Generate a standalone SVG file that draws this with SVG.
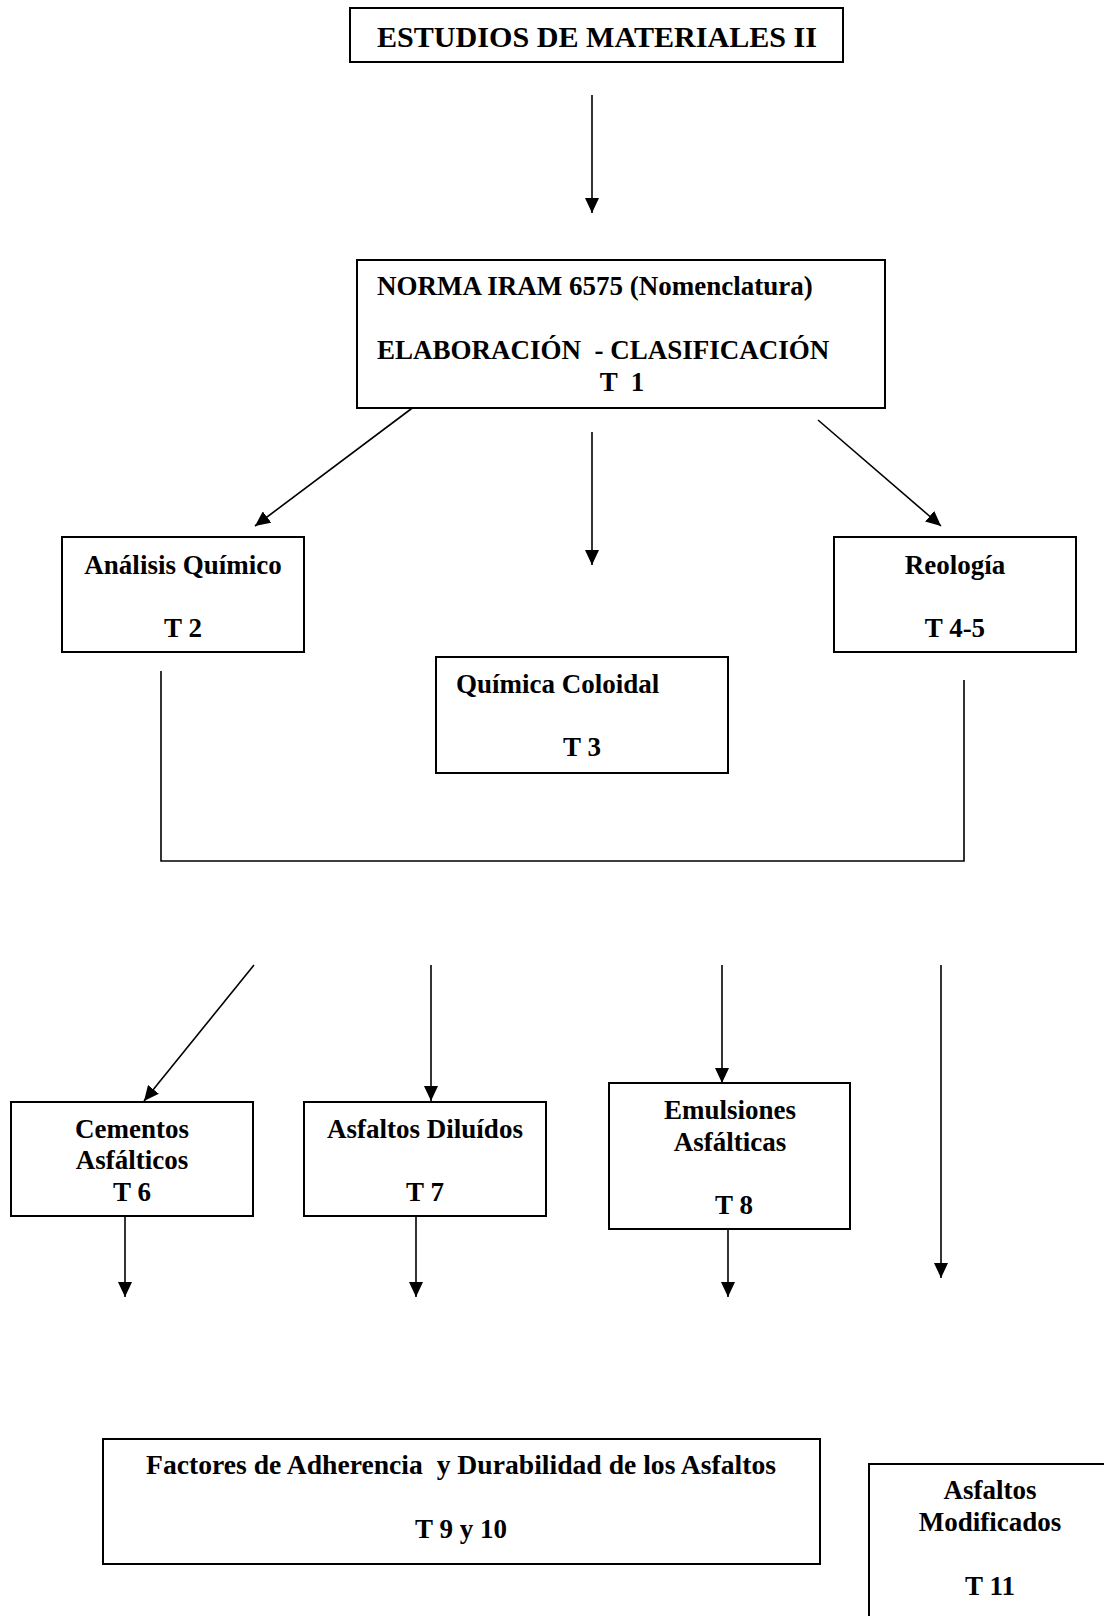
<svg xmlns="http://www.w3.org/2000/svg" width="1104" height="1616" viewBox="0 0 1104 1616">
<style>
.box{fill:#fff;stroke:#000;stroke-width:2}
.t{font-family:"Liberation Serif","Times New Roman",serif;font-weight:bold;font-size:27px;fill:#000}
.c{text-anchor:middle}
.ln{stroke:#000;stroke-width:1.6;fill:none}
.ar{stroke:#000;stroke-width:1.6;fill:none;marker-end:url(#ah)}
</style>
<defs>
<marker id="ah" viewBox="0 0 15 14" refX="15" refY="7" markerWidth="15" markerHeight="14" markerUnits="userSpaceOnUse" orient="auto">
<path d="M0,0 L15,7 L0,14 z" fill="#000"/>
</marker>
</defs>
<rect width="1104" height="1616" fill="#fff"/>
<g id="connectors">
<line class="ar" x1="415" y1="406" x2="255" y2="526"/>
<line class="ar" x1="592" y1="95" x2="592" y2="213"/>
<line class="ar" x1="592" y1="432" x2="592" y2="565"/>
<line class="ar" x1="818" y1="420" x2="941" y2="526"/>
<polyline class="ln" points="161,671 161,861 964,861 964,680"/>
<line class="ar" x1="254" y1="965" x2="144" y2="1101"/>
<line class="ar" x1="431" y1="965" x2="431" y2="1101"/>
<line class="ar" x1="722" y1="965" x2="722" y2="1083"/>
<line class="ar" x1="941" y1="965" x2="941" y2="1278"/>
<line class="ar" x1="125" y1="1216" x2="125" y2="1297"/>
<line class="ar" x1="416" y1="1216" x2="416" y2="1297"/>
<line class="ar" x1="728" y1="1229" x2="728" y2="1297"/>
</g>
<g id="titulo">
<rect class="box" x="350" y="8" width="493" height="54"/>
<text class="t c" x="597" y="47" style="font-size:30px" textLength="440" lengthAdjust="spacingAndGlyphs">ESTUDIOS DE MATERIALES II</text>
</g>
<g id="norma">
<rect class="box" x="357" y="260" width="528" height="148"/>
<text class="t" x="377" y="295">NORMA IRAM 6575 (Nomenclatura)</text>
<text class="t" x="377" y="359" xml:space="preserve">ELABORACIÓN  - CLASIFICACIÓN</text>
<text class="t c" x="622" y="391" xml:space="preserve">T  1</text>
</g>
<g id="analisis">
<rect class="box" x="62" y="537" width="242" height="115"/>
<text class="t c" x="183" y="574">Análisis Químico</text>
<text class="t c" x="183" y="637">T 2</text>
</g>
<g id="reologia">
<rect class="box" x="834" y="537" width="242" height="115"/>
<text class="t c" x="955" y="574">Reología</text>
<text class="t c" x="955" y="637">T 4-5</text>
</g>
<g id="quimica">
<rect class="box" x="436" y="657" width="292" height="116"/>
<text class="t" x="456" y="693">Química Coloidal</text>
<text class="t c" x="582" y="756">T 3</text>
</g>
<g id="cementos">
<rect class="box" x="11" y="1102" width="242" height="114"/>
<text class="t c" x="132" y="1138">Cementos</text>
<text class="t c" x="132" y="1169">Asfálticos</text>
<text class="t c" x="132" y="1201">T 6</text>
</g>
<g id="diluidos">
<rect class="box" x="304" y="1102" width="242" height="114"/>
<text class="t c" x="425" y="1138">Asfaltos Diluídos</text>
<text class="t c" x="425" y="1201">T 7</text>
</g>
<g id="emulsiones">
<rect class="box" x="609" y="1083" width="241" height="146"/>
<text class="t c" x="730" y="1119">Emulsiones</text>
<text class="t c" x="730" y="1151">Asfálticas</text>
<text class="t c" x="734" y="1214">T 8</text>
</g>
<g id="factores">
<rect class="box" x="103" y="1439" width="717" height="125"/>
<text class="t c" x="461" y="1474" xml:space="preserve" textLength="630" lengthAdjust="spacingAndGlyphs">Factores de Adherencia  y Durabilidad de los Asfaltos</text>
<text class="t c" x="461" y="1538">T 9 y 10</text>
</g>
<g id="modificados">
<rect class="box" x="869" y="1464" width="260" height="180"/>
<text class="t c" x="990" y="1499">Asfaltos</text>
<text class="t c" x="990" y="1531">Modificados</text>
<text class="t c" x="990" y="1595">T 11</text>
</g>
</svg>
